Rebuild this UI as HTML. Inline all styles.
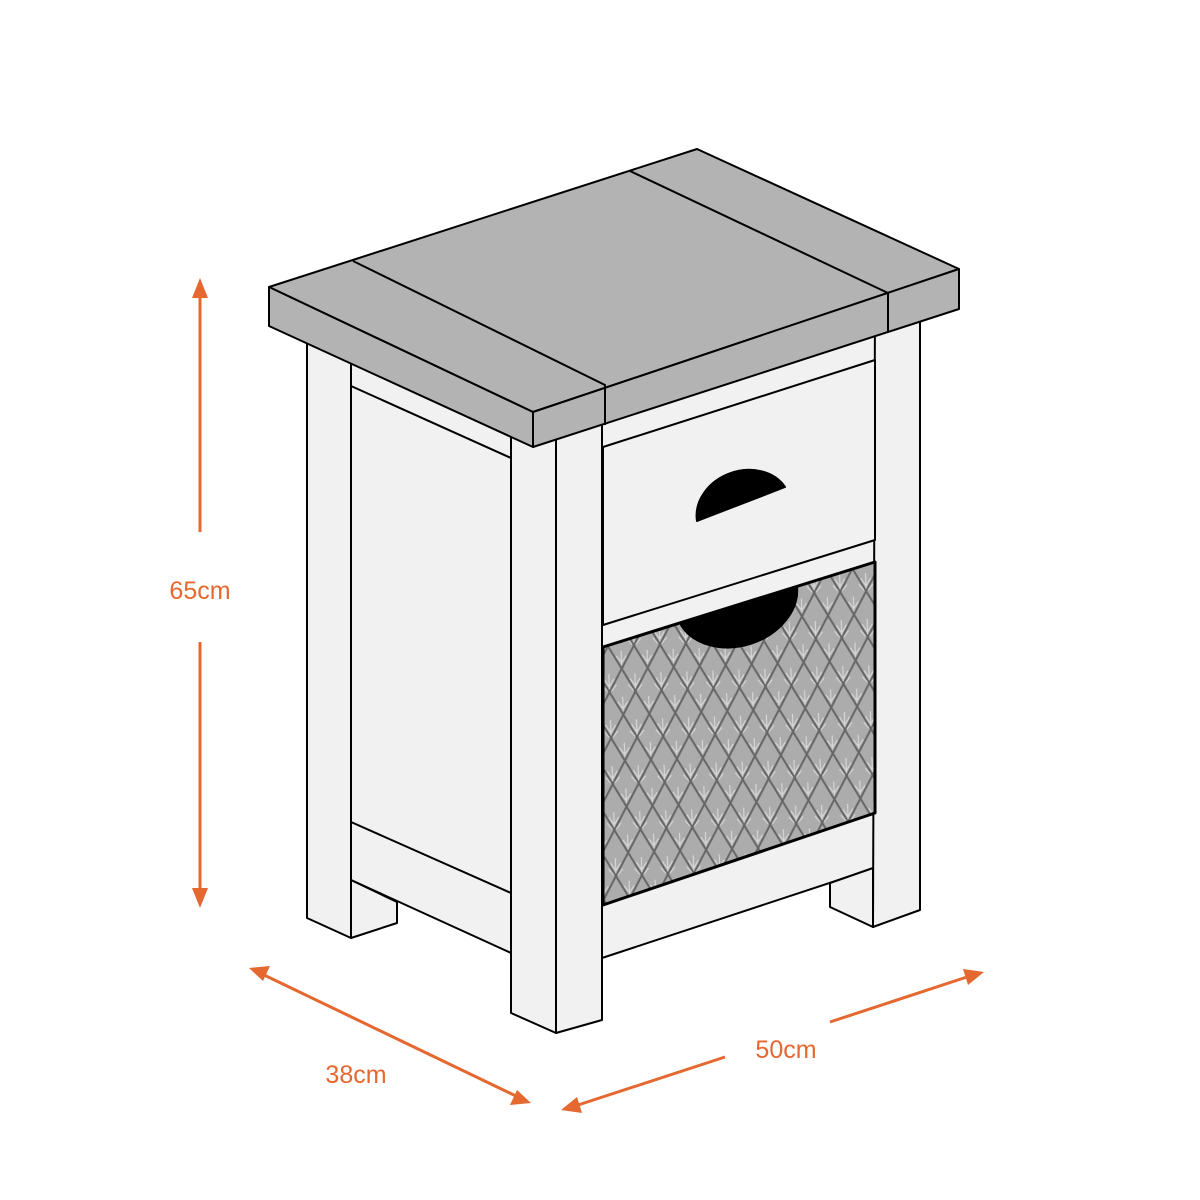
<!DOCTYPE html>
<html><head><meta charset="utf-8"><style>html,body{margin:0;padding:0;background:#fff}svg{display:block}</style></head>
<body>
<svg width="1200" height="1200" viewBox="0 0 1200 1200" xmlns="http://www.w3.org/2000/svg">
<defs>
<pattern id="dia" patternUnits="userSpaceOnUse" width="26" height="46" patternTransform="rotate(-2)">
<rect width="26" height="46" fill="#acacac"/>
<path d="M0,0 L13,23 L0,46 M26,0 L13,23 L26,46" stroke="#666" stroke-width="2" fill="none"/>
<path d="M13,5 L13,20 M8,10 L13,18 L18,10 M6,16 L11,22 M20,16 L15,22 M0,28 L0,42 M-5,33 L0,40 L5,33 M21,33 L26,40 M26,28 L26,42" stroke="#d6d6d6" stroke-width="1.2" fill="none"/>
</pattern>
</defs>
<g stroke="#000" stroke-width="2" stroke-linejoin="round" fill="#f1f1f1">
<!-- left post -->
<polygon points="307,330 351,330 351,938 307,918"/>
<!-- side panel -->
<polygon points="351,330 511,330 511,953 351,880"/>
<line x1="351" y1="386" x2="511" y2="458"/>
<line x1="351" y1="822" x2="511" y2="893"/>
<!-- back left leg -->
<polygon points="351,880 397,902 397,923 351,938"/>
<!-- front area -->
<polygon points="602,330 875,330 875,868 602,958"/>
<!-- right inner leg -->
<polygon points="830,883 873,868 873,927 830,907"/>
<!-- right post -->
<polygon points="875,300 920,300 920,910 873,927"/>
<!-- front-left post -->
<polygon points="511,400 556,400 556,1033 511,1013"/>
<polygon points="556,400 602,400 602,1020 556,1033"/>
<!-- drawer -->
<polygon points="603,447 875,360 875,540 603,625"/>
<!-- basket -->
<polygon points="603,647 875,562 875,813 603,905" fill="url(#dia)" stroke-width="3"/>
<path d="M697,521 A48,40 -20 0 1 785,487 Z" fill="#000"/>
<path d="M681,625 A62,48 -18 0 0 797,587 Z" fill="#000"/>
<!-- tabletop -->
<polygon points="269,287 697,149 959,269 533,412" fill="#b3b3b3"/>
<polygon points="269,287 533,412 533,447 269,326" fill="#b3b3b3"/>
<polygon points="533,412 959,269 959,309 533,447" fill="#b3b3b3"/>
<polyline points="353,261 605,385 605,425" fill="none"/>
<polyline points="630,171 888,293 888,331" fill="none"/>
</g>
<g stroke="#E4682F" stroke-width="3" fill="#E4682F">
<line x1="200" y1="292" x2="200" y2="532"/>
<line x1="200" y1="642" x2="200" y2="895"/>
<polygon points="200,278 192,298 208,298" stroke="none"/>
<polygon points="200,908 192,888 208,888" stroke="none"/>
<line x1="262" y1="974" x2="518" y2="1097"/>
<polygon points="249,968 270,966 263,981" stroke="none"/>
<polygon points="531,1103 510,1105 517,1090" stroke="none"/>
<line x1="575" y1="1106" x2="725" y2="1057"/>
<line x1="830" y1="1022" x2="970" y2="976"/>
<polygon points="561,1110 577,1097 582,1113" stroke="none"/>
<polygon points="984,972 968,985 963,969" stroke="none"/>
</g>
<g font-family="Liberation Sans, sans-serif" font-size="25" fill="#E4682F" text-anchor="middle">
<text x="200" y="599">65cm</text>
<text x="356" y="1083">38cm</text>
<text x="786" y="1058">50cm</text>
</g>
</svg>
</body></html>
